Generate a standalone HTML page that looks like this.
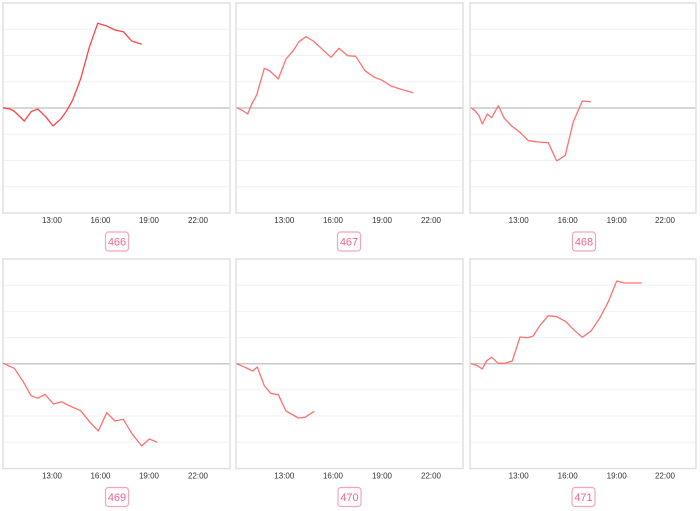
<!DOCTYPE html>
<html><head><meta charset="utf-8"><style>
html,body{margin:0;padding:0;background:#fff;}
svg{display:block;}
text{font-family:"Liberation Sans",sans-serif;}
</style></head><body>
<svg width="700" height="511" viewBox="0 0 700 511" xmlns="http://www.w3.org/2000/svg">
<rect width="700" height="511" fill="#fff"/>
<g fill="none" stroke="#f2f2f2" stroke-width="1">
<path d="M3 29.25H230M3 55.5H230M3 81.75H230M3 134.25H230M3 160.5H230M3 186.75H230"/>
<path d="M236 29.25H463M236 55.5H463M236 81.75H463M236 134.25H463M236 160.5H463M236 186.75H463"/>
<path d="M470 29.25H696M470 55.5H696M470 81.75H696M470 134.25H696M470 160.5H696M470 186.75H696"/>
<path d="M3 285.2H230M3 311.4H230M3 337.6H230M3 389.8H230M3 416H230M3 442.2H230"/>
<path d="M236 285.2H463M236 311.4H463M236 337.6H463M236 389.8H463M236 416H463M236 442.2H463"/>
<path d="M470 285.2H696M470 311.4H696M470 337.6H696M470 389.8H696M470 416H696M470 442.2H696"/>
</g>
<g fill="none" stroke="#c8c8c8" stroke-width="1.5">
<path d="M3 108H230M236 108H463M470 108H696M3 363.7H230M236 363.7H463M470 363.7H696"/>
</g>
<g fill="none" stroke="#e0e0e0" stroke-width="1.5">
<rect x="3" y="3" width="227" height="210"/>
<rect x="236" y="3" width="227" height="210"/>
<rect x="470" y="3" width="226" height="210"/>
<rect x="3" y="259" width="227" height="209.5"/>
<rect x="236" y="259" width="227" height="209.5"/>
<rect x="470" y="259" width="226" height="209.5"/>
</g>
<g fill="none" stroke-width="1.3" stroke-linejoin="round">
<polyline stroke="#ff4444" points="3,107.7 10,109 14,111 24.3,121 31,111.7 37.7,109 45.7,116.7 53,126 61,118.7 66.7,110.7 72.7,100 80.7,78.7 89.3,47.3 97.7,23.3 106,25.7 115,30 123.3,31.7 131.7,41 141.7,44.3"/>
<polyline stroke="#ff7070" points="236.7,107.7 241.7,110 247.7,114 251.7,104 256.7,95 264.3,68.3 270,71 278.3,79 286,59 293.3,50.7 299,41.7 306,36.7 313.3,41 322.3,49.3 331,57.3 339,48.3 347.7,55.7 355.7,56.3 365,70.7 374.3,77.3 382.3,80.3 391,86 400,89 413.3,92.7"/>
<polyline stroke="#ff7070" points="471,107.7 475,110.7 479,115.7 482.3,124 487.3,114 491.7,117.7 498.3,105.7 504.3,118.3 511.7,126 520,132.3 528.3,140.7 538.3,142 548.3,142.7 556.7,161 565.3,155.3 573.3,121.7 582.3,101 590.7,101.7"/>
<polyline stroke="#ff7070" points="3,363.3 14.3,368.3 23.3,381.7 31,395.7 37.7,398.3 45,394.3 53.3,404 61.7,401.7 67.7,405 80.7,410.7 90,422.3 98.3,431 106.7,412.7 115,421 123.3,419.3 131.7,433.3 141.7,446 149.3,439 157.3,442.3"/>
<polyline stroke="#ff7070" points="236.7,363.7 245,367.3 252.7,371 257.3,367 264.3,385.7 270.7,393.3 278.3,394.7 286,411 298.3,418 305,417.3 314.3,411.3"/>
<polyline stroke="#ff7070" points="471,363.7 476.7,365.3 482.3,369 486.7,360.7 491.7,357.3 498.3,363.3 505,363.3 512.3,361 520,337 527.7,337.7 533.3,336 540,325.3 548.3,315.7 556.7,316.7 566,321.7 573.3,329.3 582.3,337.3 591,331 600,317.7 608.3,301.7 616.7,281 624.3,283 633.3,283 641.7,283"/>
</g>
<g font-size="8" fill="#333" text-anchor="middle">
<text x="52" y="223">13:00</text><text x="100.5" y="223">16:00</text><text x="149" y="223">19:00</text><text x="198" y="223">22:00</text>
<text x="284.3" y="223">13:00</text><text x="333" y="223">16:00</text><text x="382" y="223">19:00</text><text x="431" y="223">22:00</text>
<text x="518.7" y="223">13:00</text><text x="567.7" y="223">16:00</text><text x="616.7" y="223">19:00</text><text x="665" y="223">22:00</text>
<text x="52" y="478.7">13:00</text><text x="100.5" y="478.7">16:00</text><text x="149" y="478.7">19:00</text><text x="198" y="478.7">22:00</text>
<text x="284.3" y="478.7">13:00</text><text x="333" y="478.7">16:00</text><text x="382" y="478.7">19:00</text><text x="431" y="478.7">22:00</text>
<text x="518.7" y="478.7">13:00</text><text x="567.7" y="478.7">16:00</text><text x="616.7" y="478.7">19:00</text><text x="665" y="478.7">22:00</text>
</g>
<g fill="#fff" stroke="#f7a3bb" stroke-width="1.2">
<rect x="105.5" y="232" width="23" height="19" rx="3"/>
<rect x="337.5" y="232" width="23" height="19" rx="3"/>
<rect x="572.5" y="232" width="23" height="19" rx="3"/>
<rect x="105.5" y="487.5" width="23" height="19" rx="3"/>
<rect x="338" y="487.5" width="23" height="19" rx="3"/>
<rect x="572" y="487.5" width="23" height="19" rx="3"/>
</g>
<g font-size="11" fill="#ee6690" text-anchor="middle">
<text x="117" y="245.5">466</text>
<text x="349" y="245.5">467</text>
<text x="584" y="245.5">468</text>
<text x="117" y="501">469</text>
<text x="349.5" y="501">470</text>
<text x="583.5" y="501">471</text>
</g>
</svg>
</body></html>
